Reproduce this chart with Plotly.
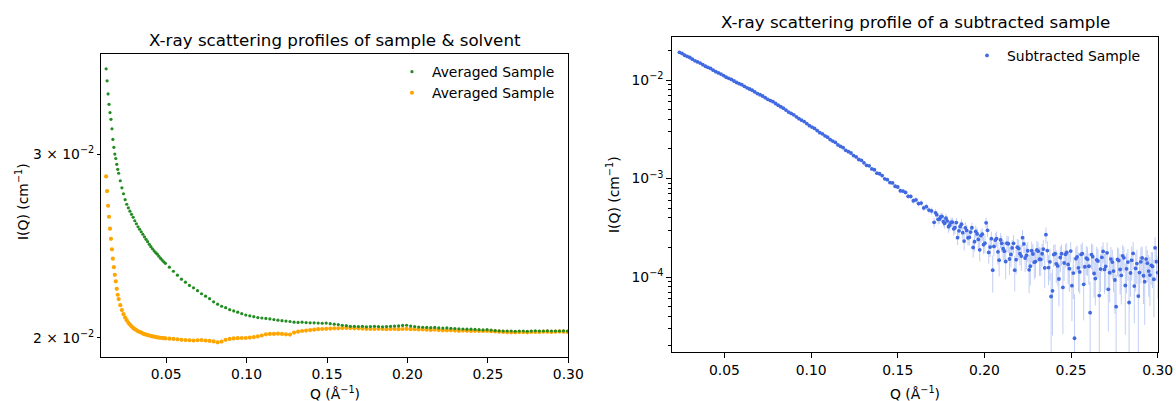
import plotly.graph_objects as go

# ---------------- data ----------------
Q_LEFT = [
    0.0127, 0.0133, 0.0139, 0.0145, 0.0151, 0.0157, 0.0163, 0.0169, 0.0175, 0.0181, 0.0187, 0.0193, 0.0199,
    0.0205, 0.0215, 0.0225, 0.0235, 0.0245, 0.0255, 0.0265, 0.0275, 0.0285, 0.0295,
    0.0305, 0.0315, 0.0325, 0.0335, 0.0345, 0.0355, 0.0365, 0.0375, 0.0385, 0.0395,
    0.0405, 0.0415, 0.0425, 0.0435, 0.0445, 0.0455, 0.0465, 0.0475, 0.0485, 0.0495,
    0.0520, 0.0545, 0.0570, 0.0595, 0.0620, 0.0645, 0.0670, 0.0695, 0.0720, 0.0745,
    0.0770, 0.0795, 0.0820, 0.0845, 0.0870, 0.0895, 0.0920, 0.0945, 0.0970, 0.0995,
    0.1020, 0.1045, 0.1070, 0.1095, 0.1120, 0.1145, 0.1170, 0.1195, 0.1220, 0.1245,
    0.1270, 0.1295, 0.1320, 0.1345, 0.1370, 0.1395, 0.1420, 0.1445, 0.1470, 0.1495,
    0.1520, 0.1545, 0.1570, 0.1595, 0.1620, 0.1645, 0.1670, 0.1695, 0.1720, 0.1745,
    0.1770, 0.1795, 0.1820, 0.1845, 0.1870, 0.1895, 0.1920, 0.1945, 0.1970, 0.1995,
    0.2020, 0.2045, 0.2070, 0.2095, 0.2120, 0.2145, 0.2170, 0.2195, 0.2220, 0.2245,
    0.2270, 0.2295, 0.2320, 0.2345, 0.2370, 0.2395, 0.2420, 0.2445, 0.2470, 0.2495,
    0.2520, 0.2545, 0.2570, 0.2595, 0.2620, 0.2645, 0.2670, 0.2695, 0.2720, 0.2745,
    0.2770, 0.2795, 0.2820, 0.2845, 0.2870, 0.2895, 0.2920, 0.2945, 0.2970, 0.2995,
]

# green series
I_SAMPLE = [
    0.03621, 0.03526, 0.03426, 0.03348, 0.03288, 0.03239, 0.03172, 0.03099, 0.03045, 0.03000, 0.02971, 0.02933, 0.02901,
    0.02876, 0.02829, 0.02785, 0.02749, 0.02713, 0.02686, 0.02665, 0.02645, 0.02627, 0.02610,
    0.02590, 0.02573, 0.02556, 0.02542, 0.02528, 0.02514, 0.02500, 0.02486, 0.02473, 0.02459,
    0.02446, 0.02435, 0.02424, 0.02414, 0.02406, 0.02395, 0.02384, 0.02375, 0.02366, 0.02358,
    0.02338, 0.02317, 0.02297, 0.02277, 0.02262, 0.02246, 0.02234, 0.02220, 0.02205, 0.02193,
    0.02181, 0.02166, 0.02155, 0.02145, 0.02138, 0.02129, 0.02123, 0.02117, 0.02110, 0.02104,
    0.02100, 0.02096, 0.02092, 0.02090, 0.02088, 0.02086, 0.02083, 0.02080, 0.02078, 0.02076,
    0.02074, 0.02071, 0.02070, 0.02071, 0.02069, 0.02068, 0.02068, 0.02067, 0.02066, 0.02067,
    0.02064, 0.02062, 0.02060, 0.02057, 0.02055, 0.02052, 0.02052, 0.02051, 0.02052, 0.02050,
    0.02051, 0.02052, 0.02051, 0.02050, 0.02051, 0.02052, 0.02053, 0.02054, 0.02056, 0.02057,
    0.02053, 0.02051, 0.02049, 0.02048, 0.02047, 0.02046, 0.02047, 0.02045, 0.02044, 0.02045,
    0.02043, 0.02042, 0.02041, 0.02040, 0.02039, 0.02039, 0.02038, 0.02037, 0.02036, 0.02037,
    0.02035, 0.02033, 0.02032, 0.02031, 0.02031, 0.02031, 0.02030, 0.02031, 0.02031, 0.02030,
    0.02031, 0.02032, 0.02031, 0.02031, 0.02032, 0.02031, 0.02031, 0.02031, 0.02032, 0.02031,
]

# orange series
I_SOLVENT = [
    0.02856, 0.02765, 0.02677, 0.02613, 0.02545, 0.02489, 0.02432, 0.02382, 0.02338, 0.02299, 0.02266, 0.02229, 0.02200,
    0.02179, 0.02150, 0.02127, 0.02108, 0.02092, 0.02080, 0.02068, 0.02060, 0.02052, 0.02045,
    0.02039, 0.02035, 0.02030, 0.02027, 0.02024, 0.02020, 0.02017, 0.02015, 0.02013, 0.02011,
    0.02009, 0.02007, 0.02006, 0.02004, 0.02003, 0.02002, 0.02001, 0.02000, 0.01999, 0.01998,
    0.01997, 0.01996, 0.01994, 0.01992, 0.01991, 0.01990, 0.01989, 0.01990, 0.01991, 0.01989,
    0.01987, 0.01985, 0.01981, 0.01984, 0.01992, 0.01996, 0.01998, 0.01999, 0.02000, 0.02000,
    0.02002, 0.02004, 0.02007, 0.02011, 0.02016, 0.02018, 0.02018, 0.02019, 0.02018, 0.02016,
    0.02015, 0.02024, 0.02028, 0.02031, 0.02033, 0.02035, 0.02037, 0.02039, 0.02040, 0.02041,
    0.02042, 0.02043, 0.02043, 0.02044, 0.02045, 0.02044, 0.02043, 0.02043, 0.02042, 0.02041,
    0.02040, 0.02040, 0.02041, 0.02040, 0.02039, 0.02040, 0.02040, 0.02039, 0.02040, 0.02041,
    0.02039, 0.02039, 0.02038, 0.02038, 0.02037, 0.02036, 0.02037, 0.02035, 0.02034, 0.02034,
    0.02034, 0.02033, 0.02032, 0.02033, 0.02032, 0.02031, 0.02032, 0.02031, 0.02031, 0.02031,
    0.02030, 0.02029, 0.02028, 0.02027, 0.02026, 0.02025, 0.02025, 0.02026, 0.02026, 0.02025,
    0.02027, 0.02027, 0.02027, 0.02028, 0.02028, 0.02027, 0.02028, 0.02029, 0.02028, 0.02027,
]

# subtracted sample, main grid
Q_SUB = [
    0.0240, 0.0255, 0.0270, 0.0285, 0.0300, 0.0315, 0.0330, 0.0345, 0.0360, 0.0375,
    0.0390, 0.0405, 0.0420, 0.0435, 0.0450, 0.0465, 0.0480, 0.0495, 0.0510, 0.0525,
    0.0540, 0.0555, 0.0570, 0.0585, 0.0600, 0.0615, 0.0630, 0.0645, 0.0660, 0.0675,
    0.0690, 0.0705, 0.0720, 0.0735, 0.0750, 0.0765, 0.0780, 0.0795, 0.0810, 0.0825,
    0.0840, 0.0855, 0.0870, 0.0885, 0.0900, 0.0915, 0.0930, 0.0945, 0.0960, 0.0975,
    0.0990, 0.1005, 0.1020, 0.1035, 0.1050, 0.1065, 0.1080, 0.1095, 0.1110, 0.1125,
    0.1140, 0.1155, 0.1170, 0.1185, 0.1200, 0.1215, 0.1230, 0.1245, 0.1260, 0.1275,
    0.1290, 0.1305, 0.1320, 0.1335, 0.1350, 0.1365, 0.1380, 0.1395, 0.1410, 0.1425,
    0.1440, 0.1455, 0.1470, 0.1485, 0.1500, 0.1515, 0.1530, 0.1545, 0.1560, 0.1575,
    0.1590, 0.1605, 0.1620, 0.1635, 0.1650, 0.1665, 0.1680, 0.1695, 0.1710, 0.1725,
    0.1740, 0.1755, 0.1770, 0.1785, 0.1800, 0.1815, 0.1830, 0.1845, 0.1860, 0.1875,
    0.1890, 0.1905, 0.1920, 0.1935, 0.1950, 0.1965, 0.1980, 0.1995, 0.2010, 0.2025,
    0.2040, 0.2055, 0.2070, 0.2085, 0.2100, 0.2115, 0.2130, 0.2145, 0.2160, 0.2175,
    0.2190, 0.2205, 0.2220, 0.2235, 0.2250, 0.2265, 0.2280, 0.2295, 0.2310, 0.2325,
    0.2340, 0.2355, 0.2370, 0.2385, 0.2400, 0.2415, 0.2430, 0.2445, 0.2460, 0.2475,
    0.2490, 0.2505, 0.2520, 0.2535, 0.2550, 0.2565, 0.2580, 0.2595, 0.2610, 0.2625,
    0.2640, 0.2655, 0.2670, 0.2685, 0.2700, 0.2715, 0.2730, 0.2745, 0.2760, 0.2775,
    0.2790, 0.2805, 0.2820, 0.2835, 0.2850, 0.2865, 0.2880, 0.2895, 0.2910, 0.2925,
    0.2940, 0.2955, 0.2970, 0.2985, 0.3000,
]

I_SUB = [
    1.912e-2, 1.860e-2, 1.784e-2, 1.736e-2, 1.693e-2, 1.628e-2, 1.566e-2, 1.527e-2, 1.485e-2, 1.432e-2,
    1.380e-2, 1.343e-2, 1.310e-2, 1.259e-2, 1.214e-2, 1.181e-2, 1.150e-2, 1.108e-2, 1.066e-2, 1.041e-2,
    1.013e-2, 9.774e-3, 9.430e-3, 9.183e-3, 8.959e-3, 8.626e-3, 8.322e-3, 8.100e-3, 7.874e-3, 7.577e-3,
    7.274e-3, 7.081e-3, 6.877e-3, 6.618e-3, 6.368e-3, 6.183e-3, 6.023e-3, 5.777e-3, 5.542e-3, 5.354e-3,
    5.173e-3, 4.951e-3, 4.728e-3, 4.578e-3, 4.433e-3, 4.233e-3, 4.052e-3, 3.914e-3, 3.786e-3, 3.610e-3,
    3.442e-3, 3.328e-3, 3.224e-3, 3.067e-3, 2.917e-3, 2.840e-3, 2.714e-3, 2.630e-3, 2.483e-3, 2.399e-3,
    2.323e-3, 2.193e-3, 2.118e-3, 2.056e-3, 1.932e-3, 1.871e-3, 1.816e-3, 1.710e-3, 1.657e-3, 1.559e-3,
    1.530e-3, 1.443e-3, 1.361e-3, 1.345e-3, 1.251e-3, 1.227e-3, 1.134e-3, 1.118e-3, 1.071e-3, 9.936e-4,
    9.739e-4, 9.096e-4, 9.019e-4, 8.347e-4, 8.200e-4, 7.516e-4, 7.453e-4, 7.221e-4, 6.597e-4, 6.582e-4,
    5.950e-4, 6.060e-4, 5.563e-4, 5.627e-4, 5.027e-4, 5.180e-4, 4.788e-4, 4.690e-4, 3.589e-4, 4.298e-4,
    3.867e-4, 4.133e-4, 3.510e-4, 3.710e-4, 3.375e-4, 3.609e-4, 3.172e-4, 2.512e-4, 3.253e-4, 2.823e-4,
    3.157e-4, 2.499e-4, 2.859e-4, 1.995e-4, 2.906e-4, 2.409e-4, 2.632e-4, 2.132e-4, 3.548e-4, 1.778e-4,
    2.453e-4, 2.043e-4, 2.459e-4, 1.483e-4, 2.197e-4, 1.829e-4, 2.202e-4, 1.525e-4, 1.975e-4, 1.173e-4,
    2.007e-4, 1.723e-4, 2.512e-4, 1.561e-4, 1.848e-4, 1.289e-4, 1.713e-4, 1.436e-4, 1.829e-4, 1.508e-4,
    1.924e-4, 2.692e-4, 1.248e-4, 6.344e-5, 1.692e-4, 1.362e-4, 9.556e-5, 1.723e-4, 1.388e-4, 1.774e-4,
    1.217e-4, 8.165e-5, 2.390e-5, 1.603e-4, 1.126e-4, 1.729e-4, 1.272e-4, 1.517e-4, 4.352e-5, 1.609e-4,
    9.654e-5, 1.455e-4, 1.204e-4, 1.820e-4, 1.279e-4, 7.497e-5, 1.523e-4, 1.150e-4, 5.000e-5, 1.471e-4,
    1.038e-4, 1.565e-4, 1.211e-4, 5.514e-5, 1.479e-4, 8.100e-5, 1.371e-4, 1.110e-4, 1.563e-4, 8.964e-5,
    1.384e-4, 1.046e-4, 1.282e-4, 1.979e-4, 1.109e-4,
]

I_SUB_ERR = [
    1.5e-4, 1.5e-4, 1.4e-4, 1.4e-4, 1.3e-4, 1.3e-4, 1.2e-4, 1.2e-4, 1.2e-4, 1.1e-4,
    1.1e-4, 1.1e-4, 1.0e-4, 1.0e-4, 1.0e-4, 9.5e-5, 9.2e-5, 9.0e-5, 8.7e-5, 8.5e-5,
    8.3e-5, 8.1e-5, 7.9e-5, 7.7e-5, 7.6e-5, 7.4e-5, 7.2e-5, 7.1e-5, 6.9e-5, 6.8e-5,
    6.6e-5, 6.5e-5, 6.4e-5, 6.2e-5, 6.1e-5, 6.0e-5, 5.9e-5, 5.8e-5, 5.7e-5, 5.6e-5,
    5.5e-5, 5.4e-5, 5.3e-5, 5.2e-5, 5.1e-5, 5.0e-5, 4.9e-5, 4.9e-5, 4.8e-5, 4.7e-5,
    4.6e-5, 4.6e-5, 4.5e-5, 4.4e-5, 4.4e-5, 4.3e-5, 4.3e-5, 4.2e-5, 4.2e-5, 4.1e-5,
    4.1e-5, 4.0e-5, 4.0e-5, 4.0e-5, 3.9e-5, 3.9e-5, 3.9e-5, 3.8e-5, 3.8e-5, 3.8e-5,
    3.8e-5, 3.7e-5, 3.7e-5, 3.7e-5, 3.7e-5, 3.7e-5, 3.6e-5, 3.6e-5, 3.6e-5, 3.6e-5,
    3.6e-5, 3.7e-5, 3.5e-5, 3.7e-5, 3.6e-5, 3.8e-5, 3.5e-5, 3.7e-5, 3.6e-5, 3.8e-5,
    3.7e-5, 3.9e-5, 3.6e-5, 3.8e-5, 3.7e-5, 4.0e-5, 3.8e-5, 3.9e-5, 4.1e-5, 3.7e-5,
    4.0e-5, 3.8e-5, 4.2e-5, 3.9e-5, 4.1e-5, 3.8e-5, 4.3e-5, 4.0e-5, 3.9e-5, 4.2e-5,
    4.4e-5, 4.0e-5, 3.9e-5, 4.3e-5, 4.1e-5, 4.5e-5, 4.0e-5, 4.2e-5, 4.6e-5, 4.1e-5,
    4.3e-5, 4.0e-5, 4.4e-5, 4.7e-5, 4.1e-5, 4.5e-5, 4.2e-5, 4.8e-5, 4.0e-5, 4.6e-5,
    4.3e-5, 4.1e-5, 4.9e-5, 4.4e-5, 4.2e-5, 4.7e-5, 4.3e-5, 4.5e-5, 4.1e-5, 4.8e-5,
    4.4e-5, 5.0e-5, 4.2e-5, 4.6e-5, 4.3e-5, 4.9e-5, 4.5e-5, 4.2e-5, 4.7e-5, 4.4e-5,
    5.1e-5, 4.6e-5, 4.3e-5, 4.8e-5, 4.5e-5, 5.2e-5, 4.4e-5, 4.9e-5, 4.6e-5, 5.3e-5,
    4.5e-5, 4.8e-5, 5.0e-5, 4.4e-5, 5.4e-5, 4.7e-5, 4.9e-5, 4.5e-5, 5.5e-5, 4.8e-5,
    5.1e-5, 4.6e-5, 5.3e-5, 4.9e-5, 5.6e-5, 4.7e-5, 5.2e-5, 5.0e-5, 4.8e-5, 5.7e-5,
    4.9e-5, 5.4e-5, 5.1e-5, 5.5e-5, 5.0e-5,
]

# subtracted sample, interleaved points of the noisy high-Q part
Q_SUB_B = [
    0.1718, 0.1733, 0.1748, 0.1763, 0.1778, 0.1793, 0.1808, 0.1823, 0.1838, 0.1853,
    0.1868, 0.1883, 0.1898, 0.1913, 0.1928, 0.1943, 0.1958, 0.1973, 0.1988, 0.2003,
    0.2018, 0.2033, 0.2048, 0.2063, 0.2078, 0.2093, 0.2108, 0.2123, 0.2138, 0.2153,
    0.2168, 0.2183, 0.2198, 0.2213, 0.2228, 0.2243, 0.2258, 0.2273, 0.2288, 0.2303,
    0.2318, 0.2333, 0.2348, 0.2363, 0.2378, 0.2393, 0.2408, 0.2423, 0.2438, 0.2453,
    0.2468, 0.2483, 0.2498, 0.2513, 0.2528, 0.2543, 0.2558, 0.2573, 0.2588, 0.2603,
    0.2618, 0.2633, 0.2648, 0.2663, 0.2678, 0.2693, 0.2708, 0.2723, 0.2738, 0.2753,
    0.2768, 0.2783, 0.2798, 0.2813, 0.2828, 0.2843, 0.2858, 0.2873, 0.2888, 0.2903,
    0.2918, 0.2933, 0.2948, 0.2963, 0.2978, 0.2993,
]

I_SUB_B = [
    4.480e-4, 3.849e-4, 4.067e-4, 3.659e-4, 3.956e-4, 3.245e-4, 3.592e-4, 3.085e-4, 3.575e-4, 2.943e-4,
    3.440e-4, 2.317e-4, 2.975e-4, 2.523e-4, 3.166e-4, 2.286e-4, 2.739e-4, 1.888e-4, 2.720e-4, 2.206e-4,
    2.979e-4, 2.016e-4, 1.175e-4, 2.374e-4, 1.803e-4, 2.380e-4, 1.936e-4, 1.437e-4, 2.178e-4, 1.695e-4,
    2.200e-4, 1.500e-4, 1.948e-4, 1.633e-4, 2.170e-4, 1.660e-4, 1.184e-4, 1.849e-4, 1.414e-4, 1.883e-4,
    1.515e-4, 1.723e-4, 1.237e-4, 1.855e-4, 1.427e-4, 7.252e-5, 1.723e-4, 1.295e-4, 1.579e-4, 7.841e-5,
    1.700e-4, 1.340e-4, 1.835e-4, 1.097e-4, 1.537e-4, 1.239e-4, 1.696e-4, 8.434e-5, 1.558e-4, 1.287e-4,
    1.689e-4, 1.086e-4, 1.492e-4, 6.483e-5, 1.584e-4, 1.196e-4, 1.761e-4, 1.106e-4, 1.418e-4, 9.328e-5,
    1.508e-4, 1.193e-4, 1.641e-4, 8.200e-5, 1.420e-4, 1.099e-4, 1.735e-4, 1.224e-4, 6.403e-5, 1.428e-4,
    1.031e-4, 1.520e-4, 1.149e-4, 1.315e-4, 9.490e-5, 1.431e-4,
]

I_SUB_ERR_B = [
    4.0e-5, 4.2e-5, 3.9e-5, 4.3e-5, 4.1e-5, 4.4e-5, 4.0e-5, 4.5e-5, 4.2e-5, 4.3e-5,
    4.1e-5, 4.6e-5, 4.2e-5, 4.4e-5, 4.0e-5, 4.7e-5, 4.3e-5, 4.5e-5, 4.1e-5, 4.6e-5,
    4.4e-5, 4.2e-5, 4.8e-5, 4.3e-5, 4.6e-5, 4.1e-5, 4.5e-5, 4.9e-5, 4.2e-5, 4.4e-5,
    4.7e-5, 4.3e-5, 4.5e-5, 4.8e-5, 4.2e-5, 4.6e-5, 5.0e-5, 4.4e-5, 4.7e-5, 4.3e-5,
    4.9e-5, 4.5e-5, 4.6e-5, 4.4e-5, 5.1e-5, 4.7e-5, 4.3e-5, 4.8e-5, 4.6e-5, 5.2e-5,
    4.5e-5, 4.9e-5, 4.4e-5, 5.0e-5, 4.7e-5, 5.3e-5, 4.6e-5, 4.8e-5, 5.1e-5, 4.5e-5,
    5.0e-5, 4.7e-5, 5.4e-5, 4.9e-5, 4.6e-5, 5.2e-5, 4.8e-5, 5.5e-5, 4.7e-5, 5.1e-5,
    4.9e-5, 5.3e-5, 4.8e-5, 5.6e-5, 5.0e-5, 4.7e-5, 5.4e-5, 5.1e-5, 4.9e-5, 5.7e-5,
    5.0e-5, 5.5e-5, 5.2e-5, 4.8e-5, 5.6e-5, 5.1e-5,
]

LEFT_TITLE = "X-ray scattering profiles of sample &amp; solvent"
RIGHT_TITLE = "X-ray scattering profile of a subtracted sample"
X_LABEL = "Q (Å<sup>−1</sup>)"
Y_LABEL = "I(Q) (cm<sup>−1</sup>)"
X_TICKVALS = [0.05, 0.10, 0.15, 0.20, 0.25, 0.30]
X_TICKTEXT = ["0.05", "0.10", "0.15", "0.20", "0.25", "0.30"]
LEFT_YTICKVALS = [0.02, 0.03]
LEFT_YTICKTEXT = ["2 × 10<sup>−2</sup>", "3 × 10<sup>−2</sup>"]
RIGHT_YTICKVALS = [1e-4, 1e-3, 1e-2]
RIGHT_YTICKTEXT = ["10<sup>−4</sup>", "10<sup>−3</sup>", "10<sup>−2</sup>"]
RIGHT_YMINOR = [m * 10.0 ** e for e in (-5, -4, -3, -2) for m in range(2, 10)]

# ---------------- figure ----------------
FONT = "DejaVu Sans"
FS = 13.9
n_left = min(len(Q_LEFT), len(I_SAMPLE), len(I_SOLVENT))
n_sub = min(len(Q_SUB), len(I_SUB), len(I_SUB_ERR))
n_sub_b = min(len(Q_SUB_B), len(I_SUB_B), len(I_SUB_ERR_B))
q_sub_all = Q_SUB[:n_sub] + Q_SUB_B[:n_sub_b]
i_sub_all = I_SUB[:n_sub] + I_SUB_B[:n_sub_b]
e_sub_all = I_SUB_ERR[:n_sub] + I_SUB_ERR_B[:n_sub_b]

fig = go.Figure()
fig.add_trace(go.Scatter(
    x=Q_LEFT[:n_left], y=I_SOLVENT[:n_left], mode="markers",
    marker=dict(color="#FFA500", size=4.2, line=dict(width=0)),
    name="Averaged Sample", xaxis="x", yaxis="y", legend="legend", legendrank=2,
))
fig.add_trace(go.Scatter(
    x=Q_LEFT[:n_left], y=I_SAMPLE[:n_left], mode="markers",
    marker=dict(color="#228B22", size=3.2, line=dict(width=0)),
    name="Averaged Sample", xaxis="x", yaxis="y", legend="legend", legendrank=1,
))
fig.add_trace(go.Scatter(
    x=q_sub_all, y=i_sub_all, mode="markers",
    marker=dict(color="#4169E1", size=3.8, line=dict(width=0)),
    error_y=dict(type="data", array=e_sub_all, color="rgba(65,105,225,0.32)",
                 thickness=1, width=0),
    name="Subtracted Sample", xaxis="x2", yaxis="y2", legend="legend2",
))

axis_common = dict(
    showline=True, linecolor="black", linewidth=1, mirror=True,
    ticks="outside", tickcolor="black", tickwidth=1,
    showgrid=False, zeroline=False, automargin=False,
    tickfont=dict(family=FONT, size=FS, color="black"),
)

fig.update_layout(
    width=1176, height=401, autosize=False,
    margin=dict(l=0, r=0, t=0, b=0, pad=0, autoexpand=False),
    paper_bgcolor="white", plot_bgcolor="white",
    font=dict(family=FONT, size=FS, color="black"),
    showlegend=True,
    xaxis=dict(domain=[0.08588, 0.48325], range=[0.0095, 0.300], anchor="y",
               tickmode="array", tickvals=X_TICKVALS, ticktext=X_TICKTEXT, ticklen=5,
               **axis_common),
    yaxis=dict(domain=[0.11047, 0.86534], type="log", range=[-1.7169, -1.4270], anchor="x",
               tickmode="array", tickvals=LEFT_YTICKVALS, ticktext=LEFT_YTICKTEXT, ticklen=3,
               **axis_common),
    xaxis2=dict(domain=[0.57168, 0.98444], range=[0.0199, 0.300], anchor="y2",
                tickmode="array", tickvals=X_TICKVALS, ticktext=X_TICKTEXT, ticklen=5,
                **axis_common),
    yaxis2=dict(domain=[0.12219, 0.90848], type="log", range=[-4.761, -1.5604], anchor="x2",
                tickmode="array", tickvals=RIGHT_YTICKVALS, ticktext=RIGHT_YTICKTEXT, ticklen=5,
                minor=dict(tickmode="array", tickvals=RIGHT_YMINOR, ticks="outside",
                           ticklen=3, tickwidth=1, tickcolor="black", showgrid=False),
                **axis_common),
    legend=dict(x=0.3333, y=0.860, xanchor="left", yanchor="top",
                bgcolor="rgba(0,0,0,0)", borderwidth=0, traceorder="normal",
                font=dict(family=FONT, size=FS, color="black"), itemwidth=30),
    legend2=dict(x=0.8223, y=0.9005, xanchor="left", yanchor="top",
                 bgcolor="rgba(0,0,0,0)", borderwidth=0,
                 font=dict(family=FONT, size=FS, color="black"), itemwidth=30),
    annotations=[
        dict(text=LEFT_TITLE, x=0.2845, y=0.9002, xref="paper", yref="paper",
             xanchor="center", yanchor="middle", showarrow=False,
             font=dict(family=FONT, size=16.7, color="black")),
        dict(text=RIGHT_TITLE, x=0.7781, y=0.9451, xref="paper", yref="paper",
             xanchor="center", yanchor="middle", showarrow=False,
             font=dict(family=FONT, size=16.7, color="black")),
        dict(text=X_LABEL, x=0.2845, y=0.0200, xref="paper", yref="paper",
             xanchor="center", yanchor="middle", showarrow=False,
             font=dict(family=FONT, size=FS, color="black")),
        dict(text=X_LABEL, x=0.7781, y=0.0200, xref="paper", yref="paper",
             xanchor="center", yanchor="middle", showarrow=False,
             font=dict(family=FONT, size=FS, color="black")),
        dict(text=Y_LABEL, x=0.0187, y=0.4988, xref="paper", yref="paper",
             xanchor="center", yanchor="middle", showarrow=False, textangle=-90,
             font=dict(family=FONT, size=FS, color="black")),
        dict(text=Y_LABEL, x=0.5213, y=0.5137, xref="paper", yref="paper",
             xanchor="center", yanchor="middle", showarrow=False, textangle=-90,
             font=dict(family=FONT, size=FS, color="black")),
    ],
)

fig.write_html(
    "out.html",
    config={"responsive": False, "displayModeBar": False},
    post_script="document.body.style.margin='0px';",
)
